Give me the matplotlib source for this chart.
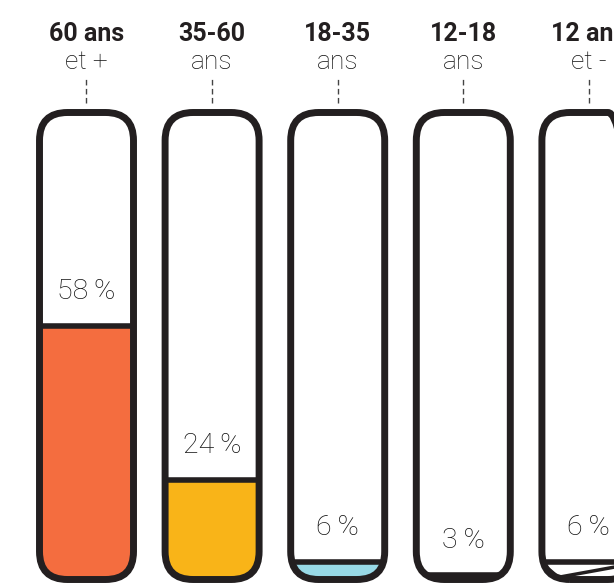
import numpy as np
import matplotlib.pyplot as plt
from matplotlib.patches import FancyBboxPatch

# data
groups = ['60 ans', '35-60', '18-35', '12-18', '12 ans']
sub_labels = ['et +', 'ans', 'ans', 'ans', 'et -']
shares = [58, 24, 6, 3, 6]
fills = ['#f46d3f', '#f9b418', '#98d9e6', '#231f20', '#ffffff']

ink = '#231f20'
px_x = 125.6   # pixels per category
px_y = 4.53    # pixels per percent point
x0 = 86.5      # pixel centre of first tube

fig = plt.figure(figsize=(6.14, 5.83), dpi=100)
ax = fig.add_axes([0, 0, 1, 1])
ax.set_xlim(-x0 / px_x, (614 - x0) / px_x)
ax.set_ylim((589 - 583) / px_y, 589 / px_y)
ax.axis('off')

half_w = 47 / px_x
top = (589 - 112.5) / px_y
bottom = (589 - 579.5) / px_y
rad = 28 / px_x
box = 'round,pad=0,rounding_size=%f' % rad
fam = ['Roboto', 'DejaVu Sans']

for i, (g, sub, v, c) in enumerate(zip(groups, sub_labels, shares, fills)):
    tube = FancyBboxPatch((i - half_w, bottom), 2 * half_w, top - bottom,
                          boxstyle=box, mutation_aspect=px_x / px_y,
                          fc='white', ec='none', zorder=1)
    ax.add_patch(tube)

    bars = ax.bar(i, v, width=2 * half_w, color=c, zorder=2)
    for b in bars:
        b.set_clip_path(tube)
    ln, = ax.plot([i - half_w, i + half_w], [v, v], color=ink, lw=4, zorder=3,
                  solid_capstyle='butt')
    ln.set_clip_path(tube)
    if c == '#ffffff':
        # zigzag pattern in the last tube
        zz, = ax.plot([i - half_w, i - half_w + 0.13, i + half_w + 0.1],
                      [v - 0.3, v * 0.43, v + 0.2], color=ink, lw=2.5, zorder=3)
        zz.set_clip_path(tube)

    outline = FancyBboxPatch((i - half_w, bottom), 2 * half_w, top - bottom,
                             boxstyle=box, mutation_aspect=px_x / px_y,
                             fc='none', ec=ink, lw=5, zorder=4)
    ax.add_patch(outline)

    # connector from label to tube
    ax.plot([i, i], [(589 - 103) / px_y, (589 - 78) / px_y], color='#444444',
            lw=1, ls=(0, (4, 2.5)), zorder=1)

    ax.text(i, (589 - 40.7) / px_y, g, ha='center', va='baseline', fontsize=18,
            fontweight='bold', color=ink, family=fam)
    ax.text(i, (589 - 69) / px_y, sub, ha='center', va='baseline', fontsize=19,
            fontweight='light', color='#111111', family=fam)
    ax.text(i, v + 27 / px_y, '%d\u2009%%' % v, ha='center', va='baseline',
            fontsize=20.5, fontweight='light', color='#111111',
            family=fam, zorder=5)

fig.savefig('out.png', dpi=100, facecolor='white')
